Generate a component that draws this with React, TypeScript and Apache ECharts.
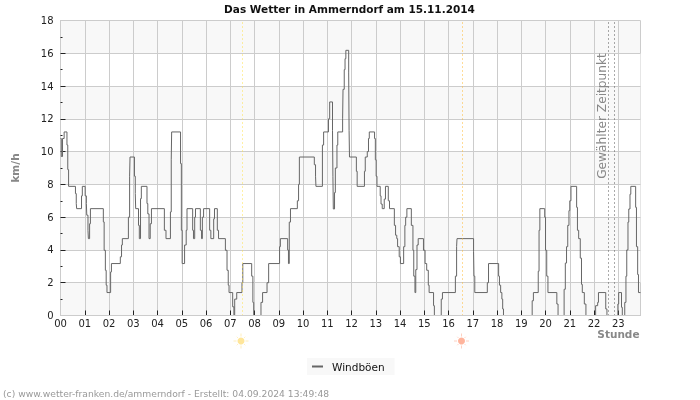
import React, { useEffect, useRef } from "react";
import * as echarts from "echarts";

// Gust readings: the value switches to gustValues[i] at minute gustMinutes[i] of the day.
const gustMinutes = [
  0, 2, 5, 9, 16, 18, 20, 37, 39, 40, 52, 54, 61, 64, 65, 68, 69, 72, 74, 106, 108, 111, 113, 115, 124, 126,
  148, 151, 153, 168, 171, 172, 183, 185, 186, 193, 195, 198, 200, 214, 216, 219, 222, 225, 257, 261, 272, 274, 275,
  297, 299, 301, 307, 311, 313, 327, 329, 332, 334, 346, 349, 351, 354, 369, 372, 379, 381, 388, 391,
  408, 412, 415, 417, 426, 429, 431, 436, 449, 451, 473, 476, 478, 496, 500, 511, 515,
  542, 544, 562, 564, 566, 569, 586, 589, 591, 628, 631, 632, 648, 651, 663, 666, 673, 674, 675, 678, 680, 684, 686,
  698, 699, 702, 704, 706, 713, 714, 715, 732, 734, 752, 754, 759, 762, 764, 777, 779, 781, 783, 791, 793, 796,
  801, 804, 811, 814, 826, 829, 832, 834, 838, 841, 849, 852, 854, 857, 868, 872, 874, 877, 879, 882, 885,
  898, 902, 906, 910, 912, 923, 925, 942, 945, 977, 980, 981,
  1022, 1023, 1025, 1056, 1059, 1084, 1086, 1089, 1092, 1094, 1096, 1167, 1170, 1182, 1184, 1186, 1198, 1200, 1203, 1206,
  1228, 1231, 1246, 1249, 1252, 1255, 1258, 1260, 1263, 1277, 1279, 1282, 1286, 1289, 1291, 1296, 1300,
  1324, 1329, 1331, 1349, 1352, 1379, 1381, 1388, 1390, 1396, 1399, 1401, 1404, 1406, 1409, 1411, 1423, 1425, 1428, 1430, 1435,
];
const gustValues = [
  10.8, 9.7, 10.8, 11.2, 10.4, 8.9, 7.88, 7.44, 6.83, 6.52, 7.3, 7.88, 7.3, 6.83, 6.12, 5.2, 4.69, 5.6, 6.52, 5.71, 3.98, 2.76, 1.85, 1.4, 2.66, 3.17,
  3.58, 4.3, 4.69, 6.0, 8.5, 9.67, 8.5, 7.44, 6.52, 5.5, 4.69, 7.13, 7.88, 6.83, 6.2, 4.69, 5.6, 6.52, 5.2, 4.69, 6.32, 9.5, 11.2,
  9.27, 5.2, 3.17, 4.3, 5.2, 6.52, 5.2, 4.69, 6.0, 6.52, 5.2, 4.69, 6.0, 6.52, 5.2, 4.69, 5.9, 6.52, 5.2, 4.69,
  3.98, 2.76, 1.85, 1.4, 0.53, 0, 1.0, 1.4, 2.0, 3.17, 2.4, 0.8, 0, 0.8, 1.4, 2.0, 3.17,
  4.2, 4.69, 4.0, 3.17, 5.7, 6.52, 7.0, 8.0, 9.67, 9.2, 8.5, 7.88, 10.4, 11.2, 12.0, 13.03, 11.3, 8.5, 6.5, 7.5, 9.0, 10.4, 11.2,
  12.0, 13.8, 15.0, 15.67, 16.18, 14.8, 11.3, 9.67, 8.8, 7.88, 8.8, 9.67, 10.0, 10.8, 11.2, 10.8, 9.5, 8.5, 7.88, 7.3, 6.8, 6.52,
  7.1, 7.88, 7.0, 6.52, 5.5, 4.9, 4.69, 4.2, 3.58, 3.17, 4.2, 5.5, 6.0, 6.52, 5.5, 3.98, 2.4, 1.4, 2.8, 4.3, 4.69,
  3.98, 3.17, 2.76, 1.85, 1.4, 0.6, 0, 1.0, 1.4, 2.4, 4.2, 4.69,
  3.9, 2.4, 1.4, 2.0, 3.17, 2.4, 1.85, 1.4, 1.0, 0.4, 0, 0.9, 1.4, 2.7, 5.2, 6.52, 6.0, 3.98, 2.4, 1.4,
  0.7, 0, 1.6, 3.2, 4.2, 5.5, 6.4, 7.0, 7.88, 6.6, 5.2, 4.69, 3.5, 1.9, 1.4, 0.7, 0,
  0.6, 0.8, 1.4, 0.4, 0, 0.7, 1.4, 0.5, 0, 0.8, 2.4, 4.0, 5.7, 6.5, 7.4, 7.88, 6.6, 4.2, 2.5, 1.4, 1.4,
];

const hourLabels = [
  "00", "01", "02", "03", "04", "05", "06", "07", "08", "09", "10", "11",
  "12", "13", "14", "15", "16", "17", "18", "19", "20", "21", "22", "23",
];
const hourMinutes = hourLabels.map((_, h) => h * 60);
const yTicks = [0, 2, 4, 6, 8, 10, 12, 14, 16, 18];

const sunriseMinute = 450.3;
const sunsetMinute = 994.6;
const selectedMinutes = [1355.8, 1370.7];

const TITLE = "Das Wetter in Ammerndorf am 15.11.2014";
const FOOTER = "(c) www.wetter-franken.de/ammerndorf - Erstellt: 04.09.2024 13:49:48";
const FONT = "DejaVu Sans";
const X_MAX = 1435;
const BAND = "#f8f8f8";

const vLine = (minute: number, color: string) => ({
  xAxis: minute,
  lineStyle: { color, type: [1, 3] as number[], width: 1 },
});

// Small sun glyph: disc with eight faded rays around it.
const sun = (cx: number, cy: number, disc: string, ray: string) => ({
  type: "group",
  x: cx,
  y: cy,
  silent: true,
  children: [
    ...[0, 1, 2, 3, 4, 5, 6, 7].map((k) => {
      const a = (k * Math.PI) / 4;
      const outer = k % 2 === 0 ? 7.5 : 6;
      return {
        type: "line",
        shape: {
          x1: Math.cos(a) * 4.5,
          y1: Math.sin(a) * 4.5,
          x2: Math.cos(a) * outer,
          y2: Math.sin(a) * outer,
        },
        style: { stroke: ray, lineWidth: 1 },
      };
    }),
    { type: "circle", shape: { cx: 0, cy: 0, r: 3.5 }, style: { fill: disc } },
  ],
});

export default function App() {
  const ref = useRef<HTMLDivElement>(null);

  useEffect(() => {
    const chart = echarts.init(ref.current!, undefined, { renderer: "svg" });
    chart.setOption({
      animation: false,
      textStyle: { fontFamily: FONT },
      title: {
        text: TITLE,
        left: 349.5,
        top: 3,
        padding: 0,
        textAlign: "center",
        textStyle: { fontFamily: FONT, fontSize: 10.5, fontWeight: "bold", color: "#111" },
      },
      grid: {
        left: 60.5,
        top: 20.5,
        width: 580,
        height: 295,
        show: true,
        backgroundColor: BAND,
        borderColor: "#ccc",
        borderWidth: 1,
      },
      legend: {
        left: 307,
        top: 358,
        backgroundColor: BAND,
        padding: [3, 10, 3, 5],
        itemWidth: 11,
        itemHeight: 2,
        itemGap: 0,
        icon: "rect",
        textStyle: { fontFamily: FONT, fontSize: 10.5, color: "#111", padding: [0, 0, 0, 4] },
        data: ["Windböen"],
      },
      xAxis: [
        {
          type: "value",
          min: 0,
          max: X_MAX,
          interval: 60,
          name: "Stunde",
          nameLocation: "end",
          nameGap: -1,
          nameMoveOverlap: false,
          nameTextStyle: {
            fontFamily: FONT,
            fontSize: 10.5,
            fontWeight: "bold",
            color: "#888",
            align: "right",
            verticalAlign: "top",
            padding: [13, 0, 0, 0],
          },
          axisLine: { show: true, onZero: false, lineStyle: { color: "#ccc" } },
          axisTick: {
            show: true,
            inside: true,
            length: 5,
            lineStyle: { color: "#222" },
            customValues: hourMinutes.slice(1),
          },
          axisLabel: {
            color: "#222",
            fontFamily: FONT,
            fontSize: 10,
            margin: 3,
            customValues: hourMinutes,
            formatter: (v: number) => hourLabels[Math.round(v / 60)] ?? "",
          },
          splitLine: { show: true, lineStyle: { color: "#ccc", width: 1 } },
        },
        {
          // Baseline drawn above the series so runs at zero blend into the plot edge.
          type: "value",
          min: 0,
          max: X_MAX,
          position: "bottom",
          z: 10,
          axisLine: { show: true, onZero: false, lineStyle: { color: "#ccc" } },
          axisTick: { show: false },
          axisLabel: { show: false },
          splitLine: { show: false },
        },
      ],
      yAxis: {
        type: "value",
        min: 0,
        max: 18,
        interval: 2,
        name: "km/h",
        nameLocation: "middle",
        nameRotate: 90,
        nameGap: 40,
        nameTextStyle: { fontFamily: FONT, fontSize: 10.5, fontWeight: "bold", color: "#888" },
        axisLine: { show: true, lineStyle: { color: "#ccc" } },
        axisTick: {
          show: true,
          inside: true,
          length: 5,
          lineStyle: { color: "#222" },
          customValues: yTicks.slice(1, -1),
        },
        minorTick: { show: true, splitNumber: 2, length: 2, lineStyle: { color: "#222" } },
        axisLabel: {
          color: "#222",
          fontFamily: FONT,
          fontSize: 10,
          margin: 7,
          padding: [0, 0, 2, 0],
          customValues: yTicks,
        },
        splitLine: { show: true, lineStyle: { color: "#ccc", width: 1 } },
        // The ticks run from 2 to 16, so the top and bottom bands show the grid background.
        splitArea: { show: true, areaStyle: { color: ["#ffffff", BAND] } },
      },
      series: [
        {
          name: "Windböen",
          type: "line",
          step: "end",
          showSymbol: false,
          symbol: "none",
          clip: true,
          itemStyle: { color: "#666" },
          lineStyle: { color: "#666", width: 1 },
          data: gustMinutes.map((m, i) => [m, gustValues[i]]),
          markLine: {
            silent: true,
            symbol: "none",
            label: { show: false },
            emphasis: { disabled: true },
            data: [
              vLine(sunriseMinute, "#ffe04a"),
              vLine(sunsetMinute, "#ffb830"),
              ...selectedMinutes.map((m) => vLine(m, "#555")),
            ],
          },
        },
      ],
      graphic: [
        {
          type: "text",
          x: 602,
          y: 116,
          z: 20,
          rotation: Math.PI / 2,
          silent: true,
          style: {
            text: "Gewählter Zeitpunkt",
            fontFamily: FONT,
            fontSize: 12.2,
            fill: "#888",
            align: "center",
            verticalAlign: "middle",
          },
        },
        sun(241, 341, "#ffe69a", "#ffeebb"),
        sun(461.5, 341, "#ffb49c", "#ffd0c0"),
        {
          type: "text",
          x: 3,
          y: 393,
          silent: true,
          style: {
            text: FOOTER,
            fontFamily: FONT,
            fontSize: 9.2,
            fill: "#999",
            align: "left",
            verticalAlign: "middle",
          },
        },
      ],
    });
    return () => chart.dispose();
  }, []);

  return (
    <div
      ref={ref}
      style={{ position: "fixed", left: 0, top: 0, width: 700, height: 400 }}
    />
  );
}
